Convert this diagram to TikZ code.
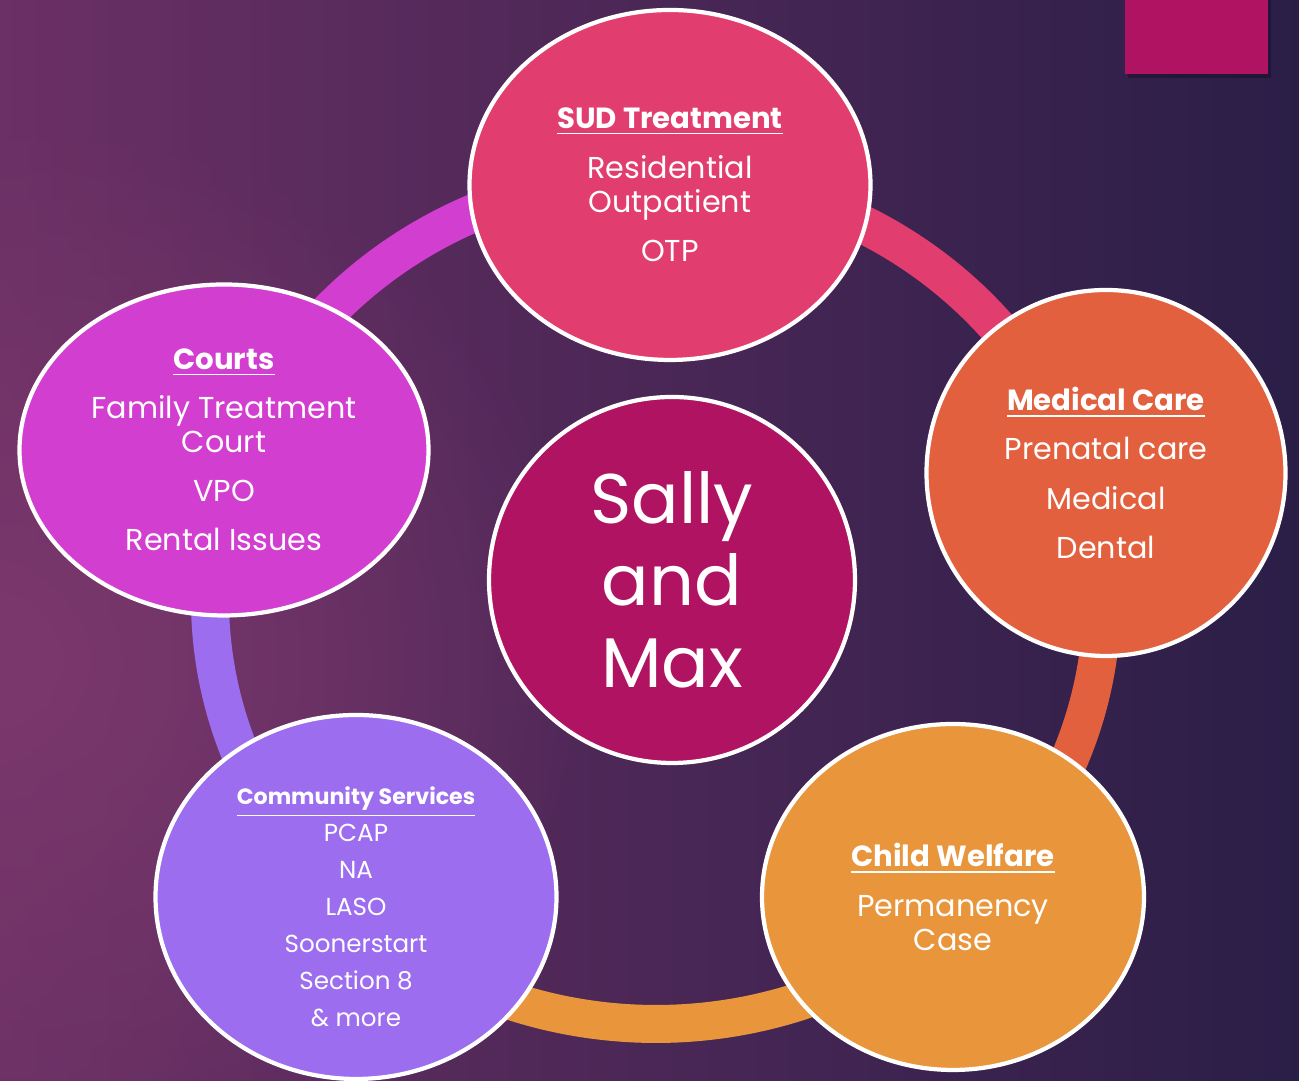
\documentclass[tikz,border=0pt]{standalone}
\usepackage{fontspec}
\setmainfont{Poppins}
\usepackage{tikz}
\usetikzlibrary{shapes.geometric,
                fadings}

\definecolor{bgleft}{HTML}{6B3065}
\definecolor{bgright}{HTML}{2A1E47}
\definecolor{bgglow}{HTML}{7B386C}
\definecolor{sudpink}{HTML}{E23D6F}
\definecolor{medorange}{HTML}{E2603E}
\definecolor{cwyellow}{HTML}{E8953B}
\definecolor{commviolet}{HTML}{9C6DEF}
\definecolor{courtmagenta}{HTML}{D23ECF}
\definecolor{sallyred}{HTML}{B01362}

\tikzfading[name=glowfade, inner color=transparent!0, outer color=transparent!100]

\newcommand{\head}[1]{{\fontsize{8.3}{9.7}\selectfont\bfseries\underline{#1}}}

\tikzset{
  bubble/.style={ellipse, draw=white, line width=1.2pt, text=white, align=center,
                 inner sep=0pt, font=\fontsize{8.6}{9.7}\selectfont},
  ringline/.style={line width=0.38cm},
}

\begin{document}
\begin{tikzpicture}
\useasboundingbox (0,0) rectangle (12.99,10.81);
\shade[left color=bgleft, right color=bgright] (0,0) rectangle (12.99,10.81);
\fill[bgglow, path fading=glowfade] (0,4.2) ellipse (6 and 5.5);

\fill[black, opacity=0.25] (11.28,10.81) rectangle (12.71,10.03);
\fill[sallyred] (11.25,10.81) rectangle (12.68,10.07);

% ring behind the bubbles
\coordinate (ring) at (6.56,4.81);
\foreach \a/\b/\c in {88/16/sudpink, 16/-46/medorange, -46/-134/cwyellow,
                      -134/-200/commviolet, 160/88/courtmagenta}
  \draw[ringline, \c] (ring) ++(\a:4.46 and 4.24)
    arc[start angle=\a, end angle=\b, x radius=4.46, y radius=4.24];

\node[bubble, circle, fill=sallyred, minimum size=3.66cm,
      font=\fontsize{20}{23.3}\selectfont] (sally) at (6.72,5.01) {Sally\\and\\Max};

\node[bubble, fill=sudpink, minimum width=4.01cm, minimum height=3.50cm] (sud) at (6.70,8.96)
  {\head{SUD Treatment}\\[0.16cm] Residential\\ Outpatient\\[0.15cm] OTP};

\node[bubble, fill=medorange, minimum width=3.59cm, minimum height=3.66cm] (med) at (11.06,6.08)
  {\head{Medical Care}\\[0.15cm] Prenatal care\\[0.15cm] Medical\\[0.15cm] Dental};

\node[bubble, fill=cwyellow, minimum width=3.82cm, minimum height=3.46cm] (cw) at (9.53,1.84)
  {\head{Child Welfare}\\[0.15cm] Permanency\\ Case};

\node[bubble, fill=commviolet, minimum width=4.01cm, minimum height=3.64cm] (comm) at (3.56,1.84) {};
\node[text=white, align=center, font=\fontsize{7}{10.5}\selectfont] (commtext) at (3.56,1.74)
  {{\fontsize{6.3}{10.5}\selectfont\bfseries\underline{Community Services}}\\
   PCAP\\ NA\\ LASO\\ Soonerstart\\ Section 8\\ \& more};

\node[bubble, fill=courtmagenta, minimum width=4.09cm, minimum height=3.31cm] (courts) at (2.24,6.31)
  {\head{Courts}\\[0.15cm] Family Treatment\\ Court\\[0.15cm] VPO\\[0.15cm] Rental Issues};
\end{tikzpicture}
\end{document}
